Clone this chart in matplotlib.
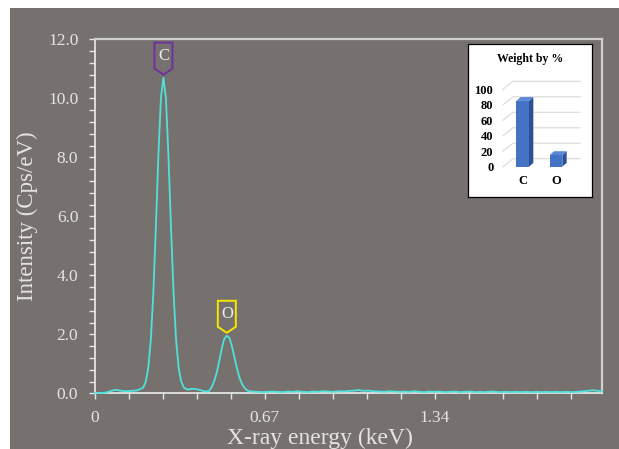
import numpy as np
import matplotlib
matplotlib.use("Agg")
import matplotlib.pyplot as plt
from matplotlib import transforms
from matplotlib.patches import Polygon, Rectangle
from matplotlib.ticker import MultipleLocator, FormatStrFormatter

# EDS spectrum (keV, cps/eV)
energy = [0.00, 0.02, 0.04, 0.06, 0.08, 0.10, 0.12, 0.14, 0.16, 0.17, 0.18,
          0.19, 0.20, 0.21, 0.22, 0.23, 0.24, 0.25, 0.26, 0.27, 0.28, 0.29,
          0.30, 0.31, 0.32, 0.33, 0.34, 0.35, 0.36, 0.37, 0.38, 0.39, 0.40,
          0.41, 0.42, 0.43, 0.44, 0.45, 0.46, 0.47, 0.48, 0.49, 0.50, 0.51,
          0.52, 0.53, 0.54, 0.55, 0.56, 0.57, 0.58, 0.59, 0.60, 0.61, 0.62,
          0.64, 0.66, 0.68, 0.70, 0.72, 0.74, 0.76, 0.78, 0.80, 0.82, 0.84,
          0.86, 0.88, 0.90, 0.92, 0.94, 0.96, 0.98, 1.00, 1.02, 1.04, 1.06,
          1.08, 1.10, 1.12, 1.14, 1.16, 1.18, 1.20, 1.22, 1.24, 1.26, 1.28,
          1.30, 1.32, 1.34, 1.36, 1.38, 1.40, 1.42, 1.44, 1.46, 1.48, 1.50,
          1.52, 1.54, 1.56, 1.58, 1.60, 1.62, 1.64, 1.66, 1.68, 1.70, 1.72,
          1.74, 1.76, 1.78, 1.80, 1.82, 1.84, 1.86, 1.88, 1.90, 1.92, 1.94,
          1.96, 1.98, 2.00]
intensity = [0.01, 0.01, 0.02, 0.07, 0.12, 0.09, 0.07, 0.08, 0.09, 0.11, 0.15,
             0.19, 0.39, 0.85, 1.79, 3.38, 5.60, 8.05, 10.00, 10.70, 9.98, 7.98,
             5.58, 3.38, 1.80, 0.86, 0.40, 0.20, 0.14, 0.13, 0.15, 0.15, 0.14,
             0.12, 0.10, 0.07, 0.06, 0.08, 0.21, 0.40, 0.69, 1.09, 1.52, 1.85,
             1.95, 1.88, 1.60, 1.22, 0.84, 0.53, 0.31, 0.18, 0.10, 0.07, 0.06,
             0.05, 0.04, 0.05, 0.06, 0.05, 0.04, 0.06, 0.05, 0.07, 0.05, 0.04,
             0.06, 0.05, 0.07, 0.06, 0.05, 0.07, 0.06, 0.08, 0.09, 0.11, 0.08,
             0.09, 0.07, 0.06, 0.05, 0.07, 0.06, 0.05, 0.06, 0.05, 0.07, 0.05,
             0.04, 0.06, 0.05, 0.06, 0.04, 0.05, 0.06, 0.04, 0.05, 0.06, 0.04,
             0.05, 0.04, 0.06, 0.05, 0.04, 0.05, 0.04, 0.05, 0.04, 0.05, 0.04,
             0.05, 0.04, 0.05, 0.04, 0.05, 0.04, 0.05, 0.04, 0.05, 0.06, 0.08,
             0.10, 0.09, 0.06]

peak_names = ["C", "O"]
peak_energy = [0.27, 0.52]
peak_colors = ["#7030a0", "#f2e800"]

# inset: weight %
weight_elems = ["C", "O"]
weight_pct = [85, 15]

bg = "#76716f"
fg = "#e4e4e4"
plt.rcParams["font.family"] = ["Liberation Serif", "DejaVu Serif"]

W, H = 619, 449
fig = plt.figure(figsize=(W / 100, H / 100), dpi=100, facecolor="white")
fig.add_artist(Rectangle((10 / W, 0), 1, (H - 8) / H, transform=fig.transFigure,
                         facecolor=bg, edgecolor="none", zorder=-10))

ax = fig.add_axes([95 / W, 1 - 393.3 / H, 507 / W, 354 / H])
ax.set_facecolor(bg)
ax.plot(energy, intensity, color="#4ee2da", lw=1.3, zorder=3, clip_on=False)
ax.set_xlim(0, 2.0)
ax.set_ylim(0, 12)
ax.set_xticks([0, 0.67, 1.34])
ax.set_xticklabels(["0", "0.67", "1.34"])
ax.xaxis.set_minor_locator(MultipleLocator(0.134))
ax.yaxis.set_major_locator(MultipleLocator(2))
ax.yaxis.set_minor_locator(MultipleLocator(0.4))
ax.yaxis.set_major_formatter(FormatStrFormatter("%.1f"))
ax.tick_params(which="both", direction="out", color=fg, length=4, width=1,
               labelcolor=fg, labelsize=12.5, pad=8)
for side in ["bottom", "left"]:
    ax.spines[side].set_color(fg)
    ax.spines[side].set_linewidth(1.3)
for side in ["top", "right"]:
    ax.spines[side].set_color("#cfcfcf")
    ax.spines[side].set_linewidth(1.6)

# peak tags
shape = np.array([[0, 3], [9, 9], [9, 35], [-9, 35], [-9, 9]]) / 100
for name, e, col in zip(peak_names, peak_energy, peak_colors):
    h = np.interp(e, energy, intensity)
    tr = fig.dpi_scale_trans + transforms.ScaledTranslation(e, h, ax.transData)
    ax.add_patch(Polygon(shape, closed=True, transform=tr, facecolor=bg,
                         edgecolor=col, lw=1.4, zorder=4))
    ax.text(0, 0.22, name, transform=tr, ha="center", va="center",
            color="#ececec", fontsize=12, zorder=5)

fig.text(27 / W, 1 - 216 / H, "Intensity (Cps/eV)", rotation=90, ha="center",
         va="center", color=fg, fontsize=16.5)
fig.text(320 / W, 5 / H, "X-ray energy (keV)", ha="center", va="baseline",
         color=fg, fontsize=17)

# inset box
box = fig.add_axes([468 / W, 1 - 197 / H, 124 / W, 153 / H])
box.set_facecolor("white")
box.set_xticks([])
box.set_yticks([])
for s in box.spines.values():
    s.set_color("black")
    s.set_linewidth(0.9)
box.text(0.5, 1 - 15 / 153, "Weight by %", transform=box.transAxes, ha="center",
         va="center", fontsize=8.5, fontweight="bold")

bx = fig.add_axes([503 / W, 1 - 166.7 / H, 77 / W, 86.7 / H])
bx.set_facecolor("none")
bx.set_xlim(-0.59, 1.72)
bx.set_ylim(0, 112)
for s in bx.spines.values():
    s.set_visible(False)

gdx, gdy = 0.30, 10.3
for v in range(0, 101, 20):
    bx.plot([-0.59, -0.59 + gdx, 1.72], [v, v + gdy, v + gdy], color="#d9d9d9",
            lw=0.8, zorder=1, clip_on=False)

w, ddx, ddy = 0.38, 0.13, 5.0
xs = np.arange(len(weight_pct))
bx.bar(xs, weight_pct, width=w, color="#4472c4", zorder=3)
for x, hgt in zip(xs, weight_pct):
    bx.add_patch(Polygon([(x + w / 2, 0), (x + w / 2 + ddx, ddy),
                          (x + w / 2 + ddx, hgt + ddy), (x + w / 2, hgt)],
                         facecolor="#2d4f94", edgecolor="none", zorder=3))
    bx.add_patch(Polygon([(x - w / 2, hgt), (x + w / 2, hgt),
                          (x + w / 2 + ddx, hgt + ddy), (x - w / 2 + ddx, hgt + ddy)],
                         facecolor="#5b87d8", edgecolor="none", zorder=3))

bx.set_yticks(range(0, 101, 20))
bx.set_xticks(xs)
bx.set_xticklabels(weight_elems)
bx.tick_params(axis="y", length=0, pad=7, labelsize=9)
bx.tick_params(axis="x", length=0, pad=6, labelsize=9)
for lab in bx.get_xticklabels() + bx.get_yticklabels():
    lab.set_fontweight("bold")

fig.savefig("out.png", dpi=100, facecolor=fig.get_facecolor())
